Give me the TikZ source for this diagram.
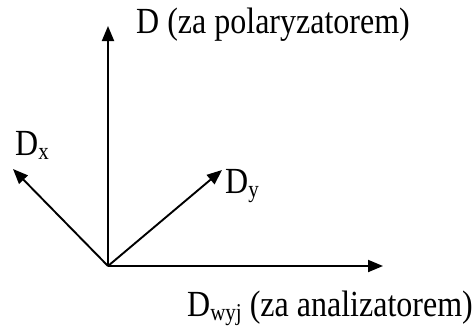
\documentclass[tikz,border=0pt]{standalone}
\usepackage{fontspec}
\setmainfont{Liberation Serif}
\usetikzlibrary{arrows.meta}
\newcommand{\subtxt}[1]{\raisebox{-4pt}{\fontsize{21}{21}\selectfont #1}}
\newcommand{\tall}[1]{\scalebox{1}[1.15]{#1}}
\begin{document}
\begin{tikzpicture}[x=1pt,y=-1pt,
  vec/.style={line width=1.9pt,-{Triangle[length=15pt,width=12pt]}},
  lbl/.style={inner sep=0pt,anchor=base west,font=\fontsize{32}{32}\selectfont}]
\useasboundingbox (0,0) rectangle (473,325);
\coordinate (O) at (108,266);
\coordinate (Dtip) at (108,26);
\coordinate (Wtip) at (383,266);
\coordinate (Xtip) at (13,169);
\coordinate (Ytip) at (222,170);
\draw[vec] (O) -- (Dtip);
\draw[vec] (O) -- (Wtip);
\draw[vec] (O) -- (Xtip);
\draw[vec] (O) -- (Ytip);
\node[lbl] (lD) at (136,33) {\tall{D (za polaryzatorem)}};
\node[lbl] (lX) at (15,155) {\tall{D\subtxt{x}}};
\node[lbl] (lY) at (225,193) {\tall{D\subtxt{y}}};
\node[lbl] (lW) at (187,316) {\tall{D\subtxt{wyj} (za analizatorem)}};
\end{tikzpicture}
\end{document}
